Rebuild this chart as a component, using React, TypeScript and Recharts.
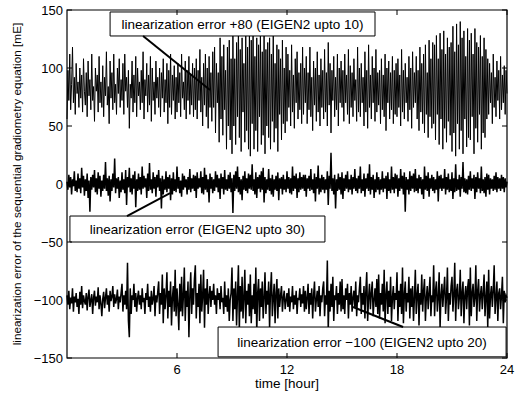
import { LineChart, Line, XAxis, YAxis, ReferenceArea, ReferenceLine } from 'recharts';

// sampled every 0.05 hour, 0 .. 24 (20 values per hour, one row per hour)
const STEP = 0.05;

const upto10 = [
  56, 98, 72, 112, 64, 86, 118, 70, 92, 60, 104, 78, 88, 66, 100, 74, 94, 62, 108, 80,
  68, 96, 58, 106, 76, 90, 64, 112, 72, 84, 54, 100, 80, 94, 62, 110, 70, 88, 66, 102,
  58, 92, 76, 114, 68, 84, 52, 106, 74, 96, 64, 112, 70, 86, 60, 100, 78, 108, 66, 90,
  72, 104, 60, 112, 80, 92, 66, 98, 48, 86, 74, 106, 62, 94, 70, 110, 58, 100, 76, 88,
  64, 98, 70, 114, 56, 90, 76, 104, 62, 94, 68, 110, 54, 100, 72, 88, 60, 106, 74, 92,
  66, 100, 58, 96, 74, 108, 62, 90, 70, 104, 52, 98, 66, 112, 60, 94, 72, 102, 56, 92,
  62, 104, 70, 96, 58, 112, 74, 88, 64, 106, 56, 98, 72, 110, 60, 94, 68, 104, 58, 100,
  64, 108, 56, 98, 72, 116, 62, 92, 50, 104, 68, 112, 58, 100, 48, 110, 66, 96, 54, 114,
  66, 118, 44, 104, 70, 96, 36, 126, 56, 110, 42, 120, 64, 98, 30, 118, 50, 124, 38, 108,
  26, 130, 50, 108, 34, 122, 58, 138, 40, 116, 28, 126, 62, 104, 36, 128, 46, 118, 30, 132,
  24, 124, 52, 134, 30, 110, 46, 126, 28, 120, 58, 132, 34, 114, 42, 128, 26, 116, 50, 122,
  40, 126, 30, 112, 54, 130, 36, 104, 48, 120, 28, 116, 60, 108, 38, 124, 52, 100, 44, 118,
  54, 112, 66, 98, 50, 120, 62, 94, 48, 108, 70, 114, 56, 96, 64, 104, 52, 118, 60, 100,
  70, 110, 52, 96, 64, 118, 58, 92, 46, 106, 68, 100, 54, 114, 62, 94, 50, 108, 66, 98,
  56, 116, 62, 96, 50, 122, 68, 104, 44, 98, 72, 110, 58, 92, 64, 112, 50, 100, 70, 106,
  66, 98, 54, 112, 70, 94, 60, 116, 52, 102, 66, 96, 58, 108, 72, 90, 54, 118, 62, 100,
  58, 104, 70, 92, 50, 114, 62, 98, 48, 120, 66, 94, 56, 110, 70, 100, 54, 116, 62, 96,
  68, 98, 52, 108, 64, 94, 58, 112, 46, 100, 70, 106, 56, 96, 64, 110, 52, 98, 60, 104,
  58, 108, 66, 94, 50, 116, 62, 98, 56, 104, 70, 92, 54, 110, 64, 100, 48, 114, 66, 96,
  70, 110, 56, 98, 46, 118, 62, 104, 52, 112, 44, 120, 60, 96, 40, 124, 58, 108, 48, 122,
  52, 120, 38, 128, 60, 108, 34, 130, 56, 116, 30, 132, 48, 112, 36, 126, 54, 118, 42, 122,
  28, 136, 44, 114, 24, 138, 52, 120, 30, 140, 46, 126, 26, 132, 56, 110, 32, 134, 40, 124,
  38, 130, 58, 112, 26, 134, 48, 122, 36, 118, 60, 128, 30, 110, 44, 126, 40, 116, 56, 108,
  60, 104, 70, 96, 52, 112, 66, 92, 58, 106, 72, 98, 56, 110, 64, 94, 70, 102, 60, 98,
  78,
];

const upto30 = [
  2, -5, 8, -3, 6, -9, 4, -2, 11, -6, 3, -7, 9, -4, 5, -8, 14, -3, 7, -10,
  4, -6, 9, -12, 3, -24, 6, -5, 8, -3, 12, -7, 5, -9, 10, -4, 7, -11, 3, -6,
  8, -4, 19, -6, 5, -10, 7, -15, 4, -6, 9, -3, 22, -8, 5, -4, 6, -12, 3, -7,
  10, -5, 4, -8, 12, -18, 6, -3, 14, -7, 5, -9, 8, -4, 11, -20, 4, -6, 9, -5,
  6, -9, 15, -4, 7, -3, 5, -12, 9, -6, 18, -5, 4, -8, 10, -4, 6, -11, 8, -3,
  12, -6, 5, -21, 7, -9, 4, -5, 11, -7, 6, -4, 8, -14, 5, -9, 10, -6, 4, -7,
  15, -4, 6, -8, 3, -11, 9, -5, 7, -3, 4, -9, 6, -5, 13, -7, 5, -4, 8, -6,
  7, -12, 10, -4, 5, -3, 11, -8, 6, -9, 14, -5, 8, -7, 4, -16, 9, -4, 6, -8,
  4, -6, 11, -3, 8, -7, 5, -13, 9, -4, 6, -9, 12, -5, 4, -6, 8, -4, 10, -7,
  5, -25, 8, -6, 11, -4, 15, -7, 6, -9, 4, -14, 7, -5, 11, -6, 5, -8, 9, -4,
  8, -5, 17, -6, 4, -9, 10, -12, 6, -4, 8, -7, 11, -5, 14, -16, 6, -8, 4, -5,
  13, -6, 5, -9, 8, -11, 4, -5, 7, -6, 10, -14, 5, -4, 6, -9, 8, -5, 4, -7,
  11, -4, 6, -8, 5, -9, 15, -6, 7, -4, 9, -12, 5, -7, 10, -5, 6, -4, 8, -6,
  8, -11, 5, -4, 7, -6, 13, -5, 4, -8, 9, -15, 6, -4, 16, -9, 5, -7, 8, -5,
  6, -8, 4, -5, 11, -18, 7, -4, 27, -6, 5, -9, 8, -21, 4, -6, 9, -5, 6, -9,
  10, -13, 5, -6, 8, -4, 11, -7, 4, -5, 8, -9, 6, -4, 13, -6, 5, -8, 7, -4,
  15, -8, 4, -6, 9, -11, 5, -4, 9, -6, 17, -9, 6, -5, 8, -12, 4, -7, 10, -5,
  6, -9, 4, -5, 11, -7, 5, -4, 7, -13, 10, -6, 4, -8, 15, -5, 6, -8, 9, -4,
  8, -11, 5, -6, 13, -4, 7, -9, 10, -24, 6, -5, 4, -9, 11, -6, 7, -4, 9, -7,
  13, -6, 5, -8, 8, -4, 6, -9, 4, -13, 15, -5, 7, -6, 10, -11, 5, -4, 8, -6,
  6, -8, 4, -5, 11, -15, 7, -4, 8, -6, 5, -4, 13, -9, 6, -5, 9, -7, 4, -6,
  10, -13, 5, -7, 17, -6, 4, -5, 8, -11, 6, -4, 19, -7, 5, -8, 4, -9, 7, -5,
  11, -6, 5, -4, 8, -13, 6, -7, 10, -4, 5, -8, 15, -6, 4, -8, 6, -11, 9, -5,
  8, -9, 5, -4, 4, -6, 7, -5, 10, -7, 6, -4, 5, -6, 8, -4, 6, -7, 5, -3,
  2,
];

const upto20 = [
  -96, -104, -92, -108, -98, -103, -90, -110, -97, -102, -94, -106, -99, -112, -93, -104, -88, -107, -96, -101,
  -104, -94, -109, -97, -91, -106, -100, -95, -112, -98, -92, -105, -97, -102, -89, -108, -96, -103, -114, -99,
  -93, -107, -98, -90, -104, -96, -110, -92, -101, -97, -88, -106, -95, -103, -99, -91, -108, -97, -102, -94,
  -86, -110, -96, -104, -92, -108, -68, -118, -132, -90, -112, -96, -100, -86, -106, -94, -110, -98, -92, -104,
  -96, -108, -90, -102, -98, -112, -94, -100, -86, -106, -97, -110, -92, -104, -99, -88, -114, -96, -102, -93,
  -84, -112, -94, -104, -78, -120, -90, -108, -96, -76, -116, -92, -106, -84, -122, -98, -88, -110, -74, -114,
  -90, -104, -126, -86, -110, -80, -114, -96, -72, -118, -92, -106, -84, -132, -96, -76, -112, -90, -104, -82,
  -70, -116, -94, -106, -86, -120, -78, -110, -96, -74, -124, -90, -104, -82, -112, -96, -88, -106, -92, -100,
  -86, -104, -96, -112, -90, -100, -94, -108, -88, -102, -98, -112, -84, -106, -96, -110, -90, -118, -100, -94,
  -72, -118, -90, -108, -84, -122, -96, -70, -126, -88, -110, -80, -116, -98, -74, -120, -92, -104, -86, -114,
  -78, -120, -96, -108, -86, -112, -72, -128, -94, -82, -118, -90, -106, -84, -116, -98, -76, -112, -92, -104,
  -84, -124, -92, -76, -114, -98, -86, -120, -94, -82, -116, -90, -106, -96, -88, -110, -98, -92, -108, -100,
  -94, -106, -90, -110, -97, -102, -88, -108, -96, -104, -92, -112, -98, -100, -90, -106, -95, -103, -88, -110,
  -92, -108, -98, -86, -112, -94, -104, -90, -116, -96, -84, -110, -100, -92, -106, -88, -114, -96, -102, -90,
  -84, -114, -96, -104, -66, -126, -92, -110, -86, -106, -80, -118, -96, -100, -88, -112, -94, -104, -84, -110,
  -82, -108, -96, -112, -90, -100, -86, -116, -94, -104, -88, -110, -98, -92, -106, -84, -114, -96, -102, -90,
  -80, -112, -94, -104, -88, -116, -92, -76, -118, -98, -86, -108, -94, -84, -114, -100, -90, -106, -82, -112,
  -78, -116, -94, -104, -86, -110, -74, -120, -96, -84, -112, -92, -106, -80, -118, -98, -88, -108, -94, -100,
  -76, -118, -92, -106, -86, -112, -72, -120, -96, -84, -110, -94, -102, -80, -116, -90, -106, -88, -118, -98,
  -74, -112, -96, -86, -122, -94, -104, -78, -110, -92, -82, -118, -98, -88, -108, -94, -80, -114, -96, -102,
  -70, -114, -92, -84, -110, -98, -76, -124, -96, -86, -106, -92, -80, -112, -98, -72, -118, -94, -104, -88,
  -80, -110, -96, -68, -118, -92, -86, -108, -98, -74, -114, -94, -84, -120, -96, -88, -108, -90, -82, -122,
  -72, -114, -94, -86, -106, -98, -70, -118, -92, -82, -110, -96, -88, -108, -94, -78, -114, -98, -84, -124,
  -74, -116, -96, -88, -106, -92, -70, -112, -98, -84, -118, -94, -90, -108, -96, -80, -120, -92, -102, -96,
  -98,
];

const yTicks = [-150, -100, -50, 0, 50, 100, 150];
const xTicks = [6, 12, 18, 24];

const data = upto10.map((v, i) => ({
  t: +(i * STEP).toFixed(2),
  a: v,
  b: upto30[i],
  c: upto20[i],
}));

const font = '"Liberation Sans", Arial, sans-serif';

const fmt = (v: number) => (v < 0 ? '\u2212' + Math.abs(v) : String(v));

const YTick = (props: any) => {
  const { x, y, payload } = props;
  return (
    <g>
      <text x={x} y={y} dy={4.5} textAnchor="end" fontSize={13} fontFamily={font} fill="#000">
        {fmt(payload.value)}
      </text>
      <line x1={67} x2={72} y1={y} y2={y} stroke="#000" />
      <line x1={502} x2={507} y1={y} y2={y} stroke="#000" />
    </g>
  );
};

const XTick = (props: any) => {
  const { x, y, payload } = props;
  return (
    <g>
      <text x={x} y={y} dy={12} textAnchor="middle" fontSize={13} fontFamily={font} fill="#000">
        {payload.value}
      </text>
      <line x1={x} x2={x} y1={353} y2={358} stroke="#000" />
      <line x1={x} x2={x} y1={10} y2={15} stroke="#000" />
    </g>
  );
};

const boxLabel = (value: string) => ({
  value,
  position: 'center' as const,
  fontSize: 13.5,
  fontFamily: font,
  fill: '#000',
});

export default function App() {
  return (
    <div style={{ position: 'absolute', left: 0, top: 0, width: 521, height: 394, background: '#fff' }}>
      <LineChart width={521} height={394} data={data} margin={{ top: 10, right: 14, bottom: 16, left: 27 }}>
        <XAxis
          dataKey="t"
          type="number"
          domain={[0, 24]}
          ticks={xTicks}
          tickSize={0}
          tickMargin={4}
          tick={<XTick />}
          height={20}
          axisLine={false}
          label={{ value: 'time [hour]', position: 'bottom', offset: 0, fontSize: 13.5, fontFamily: font, fill: '#000' }}
        />
        <YAxis
          type="number"
          domain={[-150, 150]}
          ticks={yTicks}
          tickSize={0}
          tickMargin={4}
          tick={<YTick />}
          width={40}
          axisLine={false}
          label={{
            content: () => (
              <text
                x={17}
                y={184}
                transform="rotate(-90 17 184)"
                textAnchor="middle"
                dominantBaseline="central"
                fontSize={11.8}
                fontFamily={font}
                fill="#000"
              >
                linearization error of the sequential gradiometry equation [mE]
              </text>
            ),
          }}
        />
        <Line type="linear" dataKey="a" stroke="#000" strokeWidth={1} dot={false} isAnimationActive={false} />
        <Line type="linear" dataKey="b" stroke="#000" strokeWidth={1.5} dot={false} isAnimationActive={false} />
        <Line type="linear" dataKey="c" stroke="#000" strokeWidth={1.5} dot={false} isAnimationActive={false} />

        <ReferenceArea x1={0} x2={24} y1={-150} y2={150} fill="none" fillOpacity={0} stroke="#000" strokeWidth={1.2} zIndex={1400} />

        <ReferenceArea x1={2.35} x2={16.8} y1={127.6} y2={148.3} fill="#fff" fillOpacity={1} stroke="#000" zIndex={1500}
          label={boxLabel('linearization error +80 (EIGEN2 upto 10)')} />
        <ReferenceArea x1={0.16} x2={14.07} y1={-50} y2={-27.6} fill="#fff" fillOpacity={1} stroke="#000" zIndex={1500}
          label={boxLabel('linearization error (EIGEN2 upto 30)')} />
        <ReferenceArea x1={8.24} x2={23.95} y1={-149} y2={-123.3} fill="#fff" fillOpacity={1} stroke="#000" zIndex={1500}
          label={boxLabel('linearization error \u2212100 (EIGEN2 upto 20)')} />

        <ReferenceLine segment={[{ x: 4.15, y: 127.6 }, { x: 7.8, y: 81 }]} stroke="#000" strokeWidth={2} zIndex={1600} />
        <ReferenceLine segment={[{ x: 3.27, y: -27.6 }, { x: 5.62, y: -7.8 }]} stroke="#000" strokeWidth={2} zIndex={1600} />
        <ReferenceLine segment={[{ x: 15.6, y: -106 }, { x: 18.33, y: -123.3 }]} stroke="#000" strokeWidth={2} zIndex={1600} />
      </LineChart>
    </div>
  );
}
